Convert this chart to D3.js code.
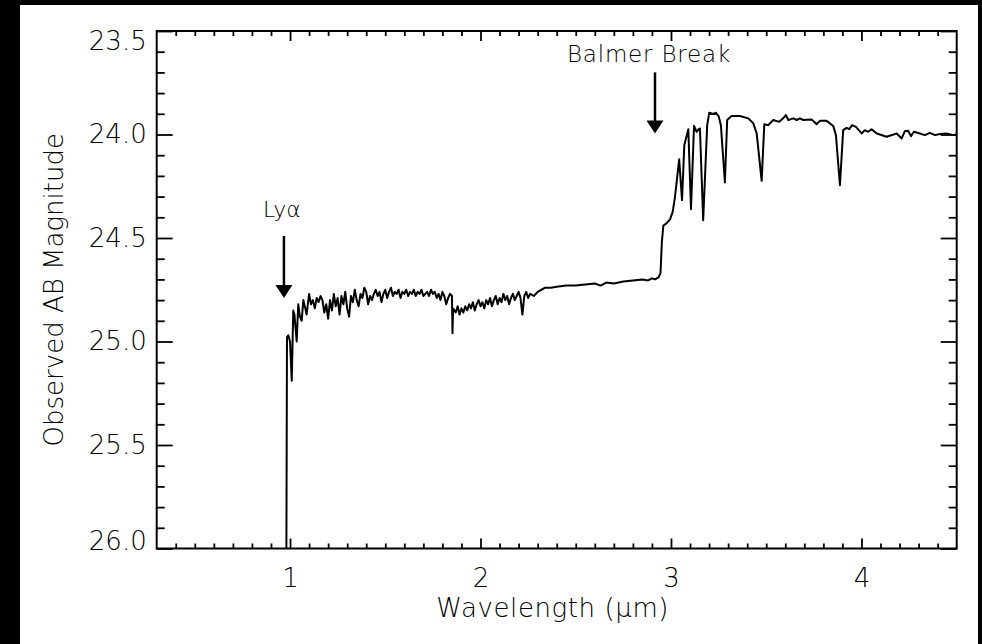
<!DOCTYPE html>
<html>
<head>
<meta charset="utf-8">
<script src="https://cdn.jsdelivr.net/npm/d3@7"></script>
<style>
  html, body { margin: 0; padding: 0; background: #000; overflow: hidden; }
  text { font-family: "DejaVu Sans", sans-serif; font-weight: 200; fill: #000; }
</style>
</head>
<body>
<script>
// spectrum (wavelength in micron, observed AB magnitude)
const wavelength = [
  0.980, 0.984, 0.991, 1.000, 1.009, 1.017, 1.023, 1.035, 1.043, 1.052, 1.061, 1.070, 1.080, 1.087,
  1.10, 1.11, 1.12, 1.13, 1.14, 1.15, 1.16, 1.17, 1.18, 1.19, 1.20, 1.21, 1.22, 1.23, 1.24, 1.25,
  1.26, 1.27, 1.28, 1.29, 1.30, 1.31, 1.32, 1.33, 1.34, 1.35, 1.36, 1.37, 1.38, 1.39, 1.40, 1.41,
  1.42, 1.43, 1.44, 1.45, 1.46, 1.47, 1.48, 1.49, 1.50, 1.51, 1.52, 1.53, 1.54, 1.55, 1.56, 1.57,
  1.58, 1.59, 1.60, 1.61, 1.62, 1.63, 1.64, 1.65, 1.66, 1.67, 1.68, 1.69, 1.70, 1.71, 1.72, 1.73,
  1.74, 1.75, 1.76, 1.77, 1.78, 1.79, 1.80, 1.81, 1.82, 1.83, 1.84, 1.85, 1.853, 1.856, 1.87, 1.88,
  1.89, 1.90, 1.91, 1.92, 1.93, 1.94, 1.95, 1.96, 1.97, 1.98, 1.99, 2.00, 2.01, 2.02, 2.03, 2.04,
  2.05, 2.06, 2.07, 2.08, 2.09, 2.10, 2.11, 2.12, 2.13, 2.14, 2.15, 2.16, 2.17, 2.18, 2.19, 2.20,
  2.21, 2.22, 2.23, 2.24, 2.25, 2.26, 2.28, 2.30, 2.32, 2.34, 2.37, 2.40, 2.45, 2.50, 2.55, 2.60,
  2.63, 2.66, 2.70, 2.75, 2.80, 2.85, 2.88, 2.90, 2.916, 2.935, 2.945, 2.952, 2.960, 2.975, 2.995,
  3.009, 3.021, 3.043, 3.058, 3.070, 3.091, 3.105, 3.121, 3.135, 3.145, 3.152, 3.169, 3.190, 3.201,
  3.222, 3.236, 3.250, 3.262, 3.283, 3.295, 3.318, 3.362, 3.406, 3.432, 3.450, 3.476, 3.490, 3.510,
  3.537, 3.568, 3.589, 3.603, 3.616, 3.642, 3.660, 3.677, 3.694, 3.738, 3.765, 3.782, 3.817, 3.852,
  3.866, 3.887, 3.904, 3.922, 3.936, 3.951, 3.971, 4.001, 4.018, 4.035, 4.053, 4.080, 4.132, 4.185,
  4.211, 4.228, 4.245, 4.260, 4.275, 4.307, 4.333, 4.359, 4.386, 4.412, 4.447, 4.482, 4.500
];
const magnitude = [
  26.30, 24.98, 24.97, 25.00, 25.19, 24.85, 24.87, 25.00, 24.82, 24.88, 24.90, 24.80, 24.84, 24.87,
  24.77, 24.82, 24.80, 24.84, 24.79, 24.81, 24.78, 24.80, 24.86, 24.82, 24.89, 24.80, 24.85, 24.77, 24.83, 24.79,
  24.87, 24.78, 24.82, 24.76, 24.84, 24.88, 24.78, 24.81, 24.75, 24.80, 24.83, 24.77, 24.79, 24.74, 24.76, 24.82,
  24.78, 24.80, 24.77, 24.75, 24.78, 24.76, 24.81, 24.77, 24.75, 24.79, 24.76, 24.74, 24.78, 24.76, 24.77, 24.75,
  24.79, 24.76, 24.77, 24.75, 24.78, 24.76, 24.77, 24.75, 24.78, 24.76, 24.77, 24.75, 24.78, 24.77, 24.76, 24.78,
  24.75, 24.77, 24.76, 24.79, 24.77, 24.80, 24.76, 24.78, 24.82, 24.79, 24.77, 24.78, 24.96, 24.84, 24.86, 24.83,
  24.87, 24.84, 24.86, 24.83, 24.85, 24.82, 24.84, 24.81, 24.85, 24.82, 24.80, 24.83, 24.81, 24.84, 24.80, 24.82,
  24.79, 24.83, 24.80, 24.78, 24.82, 24.79, 24.81, 24.77, 24.80, 24.78, 24.82, 24.79, 24.77, 24.80, 24.78, 24.76,
  24.79, 24.87, 24.78, 24.76, 24.79, 24.77, 24.78, 24.76, 24.75, 24.74, 24.74, 24.735, 24.73, 24.73, 24.725, 24.72,
  24.73, 24.715, 24.72, 24.71, 24.705, 24.70, 24.705, 24.695, 24.70, 24.69, 24.67, 24.52, 24.44, 24.43, 24.41,
  24.374, 24.301, 24.120, 24.317, 24.051, 23.975, 24.361, 23.958, 23.987, 23.974, 23.971, 24.414, 23.955, 23.895,
  23.901, 23.895, 23.911, 23.955, 24.232, 23.930, 23.911, 23.911, 23.922, 23.946, 23.995, 24.224, 23.950, 23.955,
  23.930, 23.939, 23.922, 23.906, 23.930, 23.922, 23.930, 23.922, 23.930, 23.927, 23.950, 23.934, 23.934, 23.959,
  24.003, 24.245, 23.979, 23.968, 23.974, 23.955, 23.963, 23.995, 23.979, 23.987, 23.975, 23.995, 24.011, 23.995,
  24.019, 23.984, 23.982, 24.008, 23.987, 23.995, 24.003, 23.992, 24.003, 23.998, 23.995, 24.003, 23.998
];
const xTicks = [1, 2, 3, 4];
const yTicks = [23.5, 24.0, 24.5, 25.0, 25.5, 26.0];
const arrowLabels = ["Ly\u03b1", "Balmer Break"];
const arrowX = [0.968, 2.916];
const arrowTop = [24.49, 23.70];
const arrowTip = [24.79, 23.995];

const width = 982, height = 644;
const plotL = 156.7, plotR = 956.7, plotT = 31, plotB = 548.5;

const x = d3.scaleLinear().domain([0.3, 4.5]).range([plotL, plotR]);
const y = d3.scaleLinear().domain([23.5, 26.0]).range([plotT, plotB]);

const xMinor = d3.range(4, 45).filter(d => d % 10 !== 0).map(d => d / 10);
const yMinor = d3.range(236, 260).filter(d => d % 5 !== 0).map(d => d / 10);

const svg = d3.select("body").append("svg")
  .attr("width", width)
  .attr("height", height)
  .style("display", "block");

svg.append("rect").attr("width", width).attr("height", height).attr("fill", "#000");
svg.append("rect").attr("x", 20).attr("y", 5).attr("width", 958).attr("height", 639).attr("fill", "#fff");

svg.append("clipPath").attr("id", "plot")
  .append("rect").attr("x", plotL).attr("y", plotT)
  .attr("width", plotR - plotL).attr("height", plotB - plotT);

// spectrum
const pts = wavelength.map((w, i) => [w, magnitude[i]]);
svg.append("path")
  .datum(pts)
  .attr("clip-path", "url(#plot)")
  .attr("fill", "none")
  .attr("stroke", "#000")
  .attr("stroke-width", 2)
  .attr("stroke-linejoin", "round")
  .attr("d", d3.line().x(d => x(d[0])).y(d => y(d[1])));

function styleAxis(g, size) {
  g.select(".domain").remove();
  g.selectAll(".tick line").attr("stroke", "#000").attr("stroke-width", 1.8);
  g.selectAll(".tick text").attr("font-size", size).attr("fill", "#000")
    .attr("font-family", "DejaVu Sans, sans-serif");
}

// bottom axis
const gx = svg.append("g").attr("transform", `translate(0,${plotB})`)
  .call(d3.axisBottom(x).tickValues(xTicks).tickSize(-10).tickSizeOuter(0)
    .tickPadding(20).tickFormat(d3.format("d")));
styleAxis(gx, 26);
svg.append("g").attr("transform", `translate(0,${plotB})`)
  .call(d3.axisBottom(x).tickValues(xMinor).tickSize(-5).tickFormat(""))
  .call(g => styleAxis(g, 0));

// top axis
svg.append("g").attr("transform", `translate(0,${plotT})`)
  .call(d3.axisTop(x).tickValues(xTicks).tickSize(-10).tickFormat(""))
  .call(g => styleAxis(g, 0));
svg.append("g").attr("transform", `translate(0,${plotT})`)
  .call(d3.axisTop(x).tickValues(xMinor).tickSize(-5).tickFormat(""))
  .call(g => styleAxis(g, 0));

// left axis
const gy = svg.append("g").attr("transform", `translate(${plotL},0)`)
  .call(d3.axisLeft(y).tickValues(yTicks).tickSize(-16).tickSizeOuter(0)
    .tickPadding(10).tickFormat(d3.format(".1f")));
styleAxis(gy, 26);
gy.selectAll(".tick text").attr("dy", d => d === 23.5 ? "0.73em" : d === 26.0 ? "0.02em" : "0.32em");
svg.append("g").attr("transform", `translate(${plotL},0)`)
  .call(d3.axisLeft(y).tickValues(yMinor).tickSize(-8).tickFormat(""))
  .call(g => styleAxis(g, 0));

// right axis
svg.append("g").attr("transform", `translate(${plotR},0)`)
  .call(d3.axisRight(y).tickValues(yTicks).tickSize(-16).tickFormat(""))
  .call(g => styleAxis(g, 0));
svg.append("g").attr("transform", `translate(${plotR},0)`)
  .call(d3.axisRight(y).tickValues(yMinor).tickSize(-8).tickFormat(""))
  .call(g => styleAxis(g, 0));

// frame
svg.append("rect")
  .attr("x", plotL).attr("y", plotT)
  .attr("width", plotR - plotL).attr("height", plotB - plotT)
  .attr("fill", "none").attr("stroke", "#000").attr("stroke-width", 2);

// axis titles
svg.append("text")
  .attr("x", (plotL + plotR) / 2 - 4).attr("y", 617)
  .attr("text-anchor", "middle").attr("font-size", 26)
  .attr("letter-spacing", 0.6)
  .text("Wavelength (\u03bcm)");

svg.append("text")
  .attr("transform", `translate(63,${(plotT + plotB) / 2}) rotate(-90)`)
  .attr("text-anchor", "middle").attr("font-size", 26)
  .text("Observed AB Magnitude");

// arrows
const labelGap = [19, 10];
arrowLabels.forEach((lab, i) => {
  const ax = x(arrowX[i]);
  const y0 = y(arrowTop[i]);
  const y1 = y(arrowTip[i]);
  svg.append("line")
    .attr("x1", ax).attr("x2", ax).attr("y1", y0).attr("y2", y1 - 10)
    .attr("stroke", "#000").attr("stroke-width", 2.5);
  svg.append("path")
    .attr("d", `M${ax - 8.5},${y1 - 13}L${ax + 8.5},${y1 - 13}L${ax},${y1}Z`)
    .attr("fill", "#000");
  svg.append("text")
    .attr("x", ax + (i === 0 ? -2 : -6)).attr("y", y0 - labelGap[i])
    .attr("text-anchor", "middle").attr("font-size", i === 0 ? 22 : 23)
    .attr("letter-spacing", i === 0 ? 0 : 0.8)
    .text(lab);
});
</script>
</body>
</html>
